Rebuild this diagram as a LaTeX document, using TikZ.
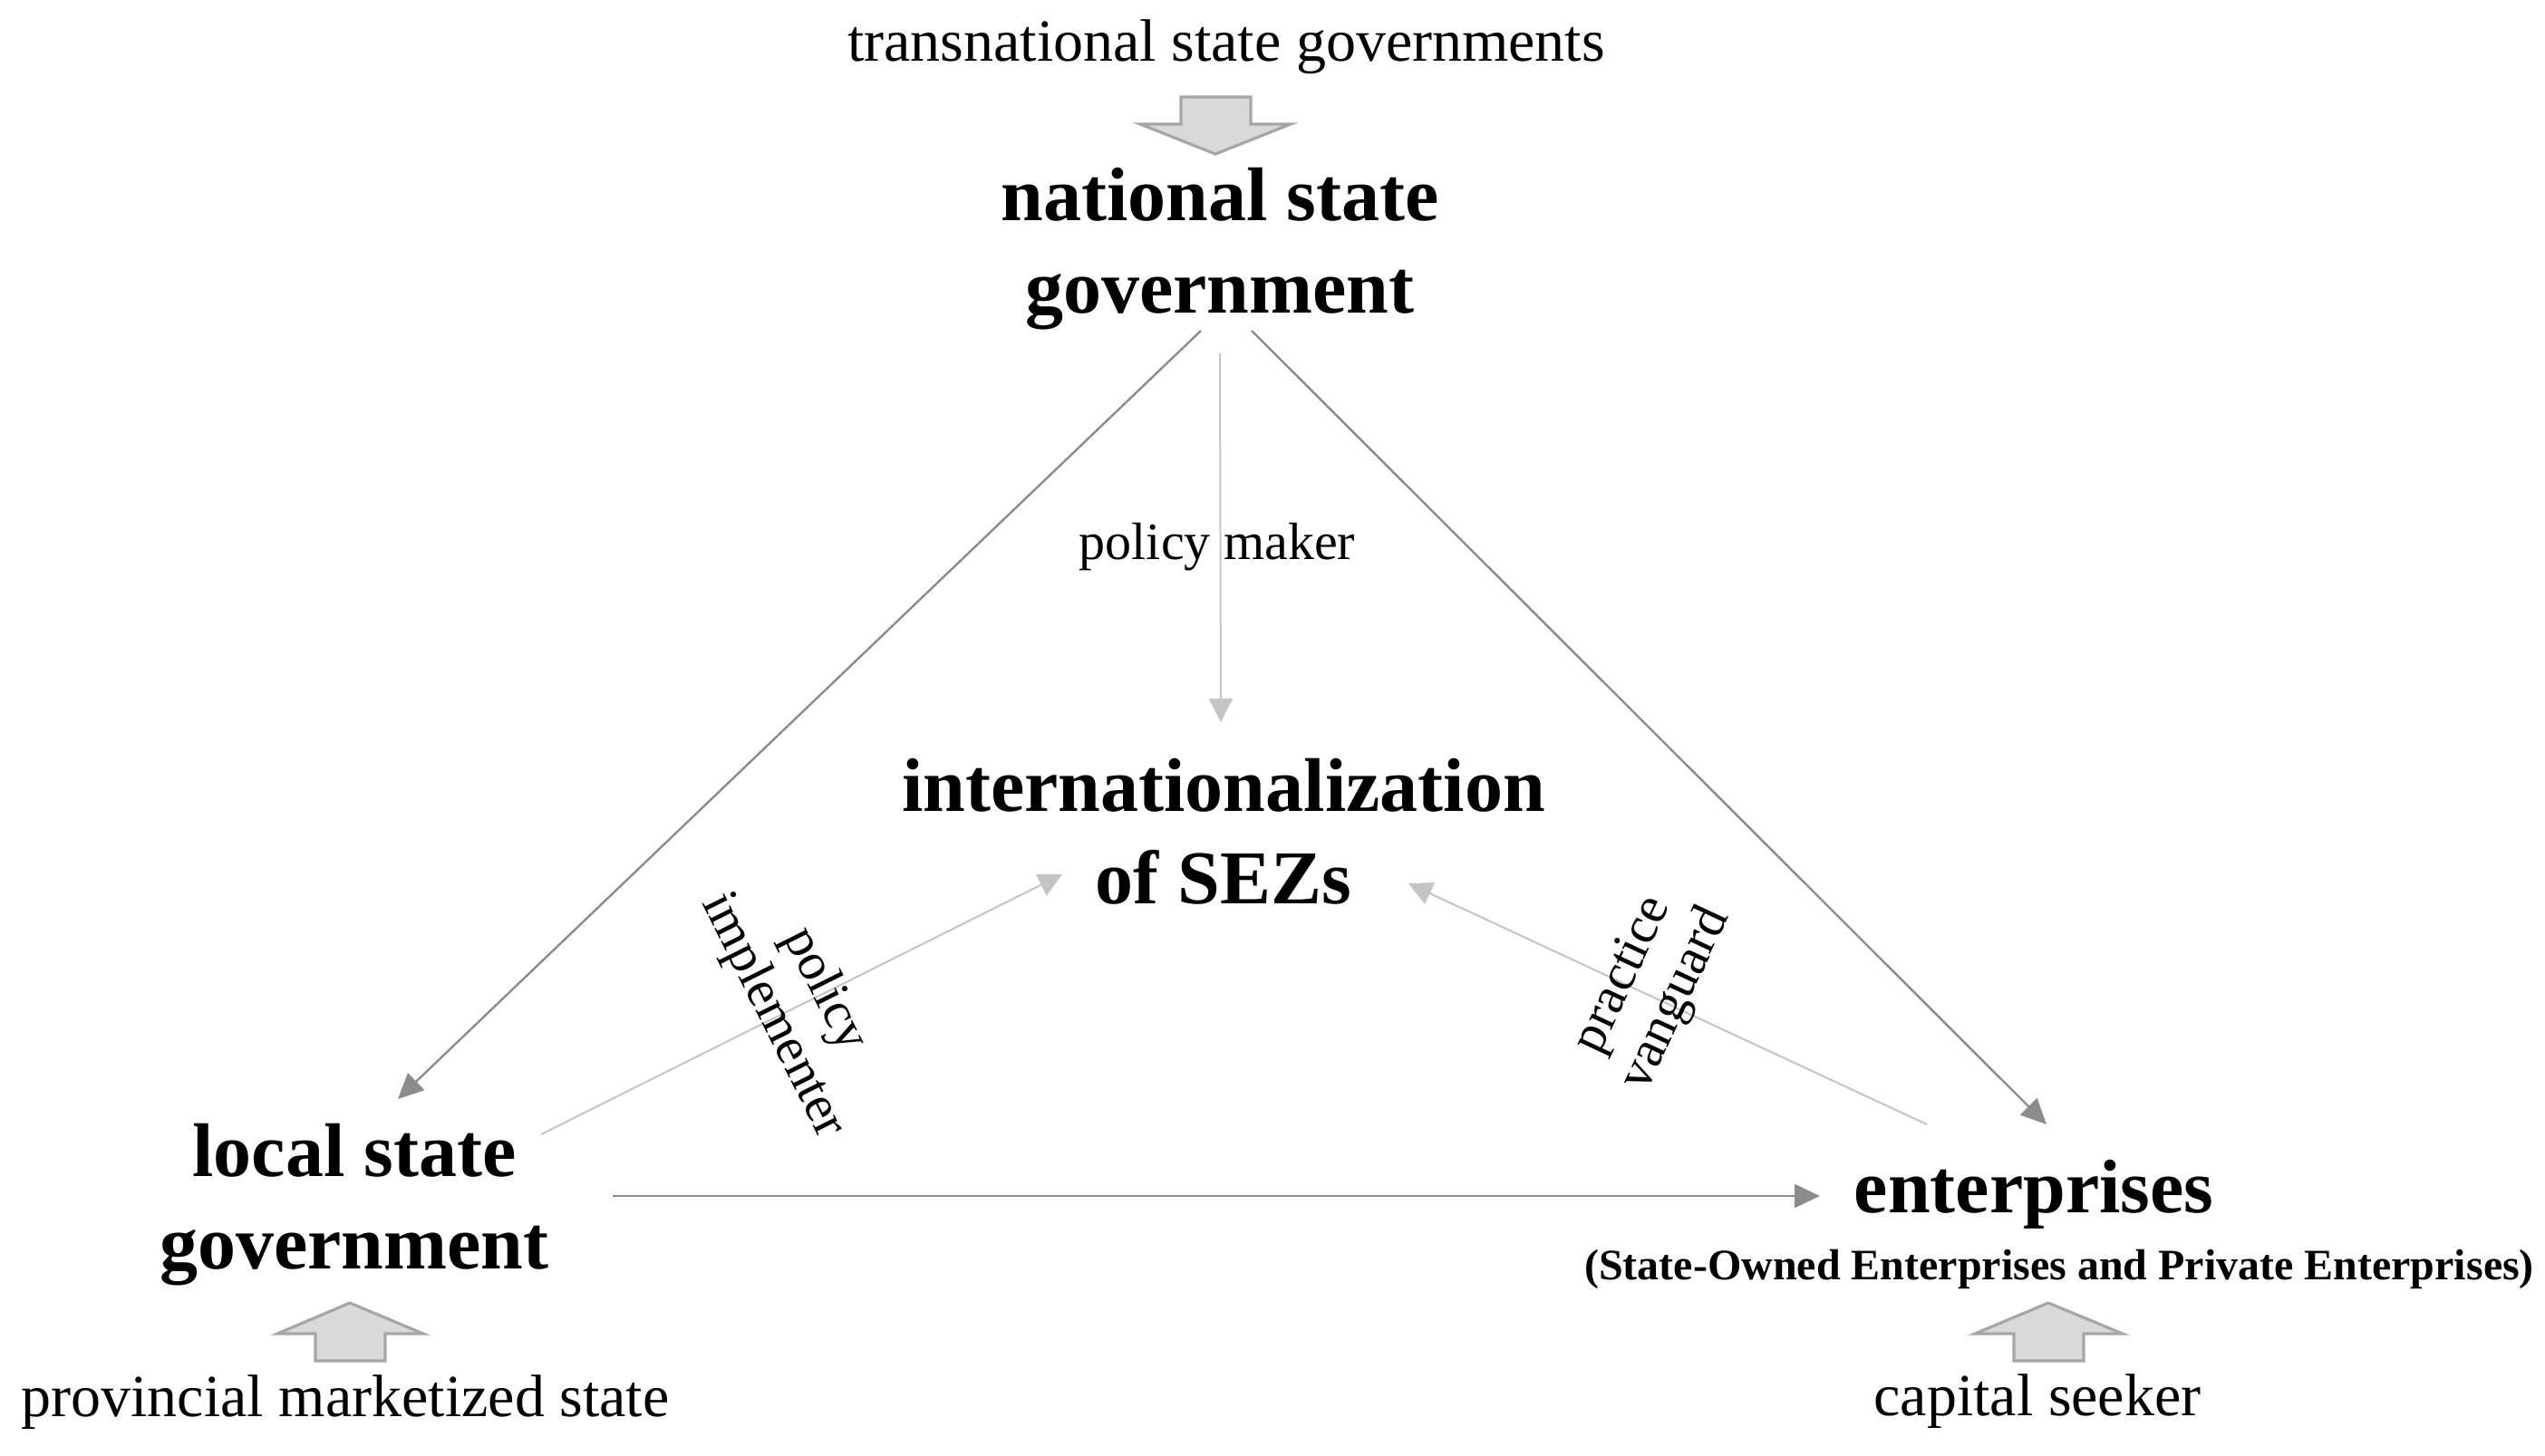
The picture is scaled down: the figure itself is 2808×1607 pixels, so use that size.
\documentclass[tikz,border=0pt]{standalone}
\usepackage{fontspec}
\setmainfont{Liberation Serif}
\usetikzlibrary{arrows.meta}
\definecolor{midgray}{HTML}{8C8C8C}
\definecolor{litegray}{HTML}{C4C4C4}
\definecolor{blockfill}{HTML}{D9D9D9}
\definecolor{blockline}{HTML}{A6A6A6}
\newcommand{\twolines}[2]{\begin{tabular}[t]{@{}c@{}}#1\\#2\end{tabular}}
\begin{document}
\begin{tikzpicture}[x=0.25pt, y=-0.25pt,
  mainlabel/.style={inner sep=0pt, anchor=base, font=\fontsize{21}{25.5}\selectfont\bfseries},
  sublabel/.style={inner sep=0pt, anchor=base, font=\fontsize{12}{14}\selectfont\bfseries},
  outerlabel/.style={inner sep=0pt, anchor=base, font=\fontsize{16.5}{19}\selectfont},
  rolelabel/.style={inner sep=0pt, font=\fontsize{14.5}{16}\selectfont, align=center},
  darkarrow/.style={draw=midgray, line width=0.6pt, -{Triangle[length=7pt,width=6.5pt]}},
  lightarrow/.style={draw=litegray, line width=0.5pt, -{Triangle[length=6.5pt,width=6.5pt]}},
  blockarrow/.style={fill=blockfill, draw=blockline, line width=0.8pt, line join=miter}]
\useasboundingbox (0,0) rectangle (2808,1607);

% texts
\node[outerlabel] (trans) at (1353,67) {transnational state governments};
\node[mainlabel] (nat) at (1346,243) {\twolines{national state}{government}};
\node[mainlabel] (sez) at (1350,895) {\twolines{internationalization}{of SEZs}};
\node[mainlabel] (local) at (391,1298) {\twolines{local state}{government}};
\node[mainlabel] (ent) at (2244,1338) {enterprises};
\node[sublabel] (entsub) at (2272,1412) {(State-Owned Enterprises and Private Enterprises)};
\node[outerlabel] (prov) at (381,1563) {provincial marketized state};
\node[outerlabel] (cap) at (2248,1562) {capital seeker};

% block arrows
\draw[blockarrow] (1303,107) -- (1380,107) -- (1380,137) -- (1424,137) -- (1341,170) -- (1258,137) -- (1303,137) -- cycle;
\draw[blockarrow] (386,1438) -- (467,1472) -- (425,1472) -- (425,1502) -- (348,1502) -- (348,1472) -- (306,1472) -- cycle;
\draw[blockarrow] (2260,1438) -- (2342,1472) -- (2299,1472) -- (2299,1502) -- (2222,1502) -- (2222,1472) -- (2179,1472) -- cycle;

% connector end points
\coordinate (natL) at (1325,365);
\coordinate (natR) at (1381,365);
\coordinate (natB) at (1346,390);
\coordinate (localT) at (439,1213);
\coordinate (localR) at (597,1252);
\coordinate (localE) at (676,1320);
\coordinate (entT) at (2258,1241);
\coordinate (entL) at (2126,1241);
\coordinate (entW) at (2008,1320);
\coordinate (sezT) at (1347,797);
\coordinate (sezL) at (1172,965);
\coordinate (sezR) at (1554,975);

% connectors
\draw[darkarrow] (natL) -- (localT);
\draw[darkarrow] (natR) -- (entT);
\draw[darkarrow] (localE) -- (entW);
\draw[lightarrow] (natB) -- (sezT);
\draw[lightarrow] (localR) -- (sezL);
\draw[lightarrow] (entL) -- (sezR);

% role labels
\node[outerlabel, font=\fontsize{14.5}{16}\selectfont] (maker) at (1343,617) {policy maker};
\node[rolelabel, rotate=-63.5] (impl) at (881,1107) {policy\\implementer};
\node[rolelabel, rotate=65] (vang) at (1821,1090) {practice\\vanguard};
\end{tikzpicture}
\end{document}
